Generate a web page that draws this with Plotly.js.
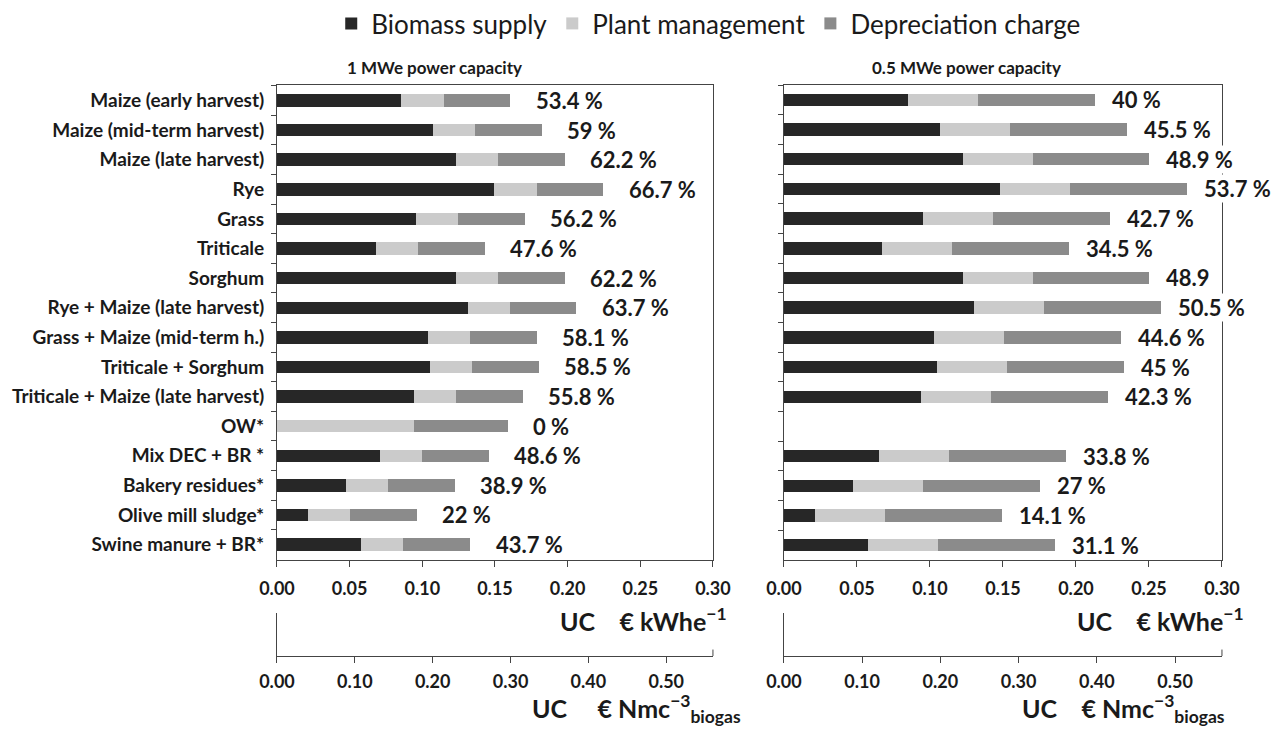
<!DOCTYPE html>
<html>
<head>
<meta charset="utf-8">
<script src="https://cdn.plot.ly/plotly-3.0.1.min.js"></script>
<style>html,body{margin:0;padding:0;background:#fff;}#chart{width:1277px;height:731px;}</style>
</head>
<body>
<div id="chart"></div>
<script>
const categories = [
  "Maize (early harvest)", "Maize (mid-term harvest)", "Maize (late harvest)", "Rye", "Grass",
  "Triticale", "Sorghum", "Rye + Maize (late harvest)", "Grass + Maize (mid-term h.)",
  "Triticale + Sorghum", "Triticale + Maize (late harvest)", "OW*", "Mix DEC + BR *",
  "Bakery residues*", "Olive mill sludge*", "Swine manure + BR*"
];
// 1 MWe power capacity (€ kWhe-1)
const biomass1 = [0.0856, 0.1075, 0.1229, 0.1496, 0.0958, 0.0679, 0.1229, 0.1311, 0.1036, 0.1053, 0.0943, 0, 0.0706, 0.0476, 0.0211, 0.0580];
const plant1   = [0.029, 0.029, 0.029, 0.029, 0.029, 0.029, 0.029, 0.029, 0.029, 0.029, 0.029, 0.094, 0.029, 0.029, 0.029, 0.029];
const deprec1  = [0.046, 0.046, 0.046, 0.046, 0.046, 0.046, 0.046, 0.046, 0.046, 0.046, 0.046, 0.065, 0.046, 0.046, 0.046, 0.046];
const pct1 = ["53.4 %", "59 %", "62.2 %", "66.7 %", "56.2 %", "47.6 %", "62.2 %", "63.7 %", "58.1 %", "58.5 %", "55.8 %", "0 %", "48.6 %", "38.9 %", "22 %", "43.7 %"];
// 0.5 MWe power capacity (€ kWhe-1)
const biomass2 = [0.0852, 0.1067, 0.1223, 0.1482, 0.0952, 0.0673, 0.1223, 0.1304, 0.1029, 0.1046, 0.0937, null, 0.0653, 0.0473, 0.0210, 0.0577];
const plant2   = [0.048, 0.048, 0.048, 0.048, 0.048, 0.048, 0.048, 0.048, 0.048, 0.048, 0.048, null, 0.048, 0.048, 0.048, 0.048];
const deprec2  = [0.080, 0.080, 0.080, 0.080, 0.080, 0.080, 0.080, 0.080, 0.080, 0.080, 0.080, null, 0.080, 0.080, 0.080, 0.080];
const pct2 = ["40 %", "45.5 %", "48.9 %", "53.7 %", "42.7 %", "34.5 %", "48.9", "50.5 %", "44.6 %", "45 %", "42.3 %", "", "33.8 %", "27 %", "14.1 %", "31.1 %"];

const seriesNames = ["Biomass supply", "Plant management", "Depreciation charge"];
const colors = ["#272727", "#cbcbcb", "#8b8b8b"];
const kwhTicks = [0, 0.05, 0.10, 0.15, 0.20, 0.25, 0.30];
const nmcTicks = [0, 0.10, 0.20, 0.30, 0.40, 0.50];

const FONT = "Lato, 'Open Sans', sans-serif";
const TXT = "#1a1a1a";

function bars(vals, xa, ya, show) {
  return vals.map((v, i) => ({
    type: "bar", orientation: "h", x: v, y: categories, name: seriesNames[i],
    xaxis: xa, yaxis: ya, marker: {color: colors[i], line: {width: 0}},
    showlegend: show, hoverinfo: "x+name"
  }));
}

const traces = [
  ...bars([biomass1, plant1, deprec1], "x", "y", true),
  ...bars([biomass2, plant2, deprec2], "x2", "y2", false),
  {type: "scatter", x: [], y: [], xaxis: "x3", yaxis: "y3", showlegend: false},
  {type: "scatter", x: [], y: [], xaxis: "x4", yaxis: "y4", showlegend: false}
];

const bold = (s) => ({family: FONT, size: s, color: TXT, weight: "bold"});
const annotations = [];
categories.forEach((c, i) => {
  const t1 = biomass1[i] + plant1[i] + deprec1[i];
  annotations.push({xref: "x", yref: "y", x: t1 + 0.016, y: c, text: pct1[i], showarrow: false,
    xanchor: "left", yanchor: "middle", font: bold(22)});
  if (biomass2[i] !== null) {
    const t2 = biomass2[i] + plant2[i] + deprec2[i];
    annotations.push({xref: "x2", yref: "y2", x: t2 + 0.011, y: c, text: pct2[i], showarrow: false,
      xanchor: "left", yanchor: "middle", bgcolor: "#ffffff", borderpad: 0, font: bold(22)});
  }
});
annotations.push(
  {xref: "paper", yref: "paper", x: 0.3406, y: 0.907, text: "1 MWe power capacity", showarrow: false, xanchor: "center", yanchor: "middle", font: bold(17)},
  {xref: "paper", yref: "paper", x: 0.757, y: 0.907, text: "0.5 MWe power capacity", showarrow: false, xanchor: "center", yanchor: "middle", font: bold(17)},
  {xref: "paper", yref: "paper", x: 0.571, y: 0.152, text: "UC\u00a0\u00a0\u00a0 € kWhe<sup>−1</sup>", showarrow: false, xanchor: "right", yanchor: "middle", font: bold(25)},
  {xref: "paper", yref: "paper", x: 0.976, y: 0.152, text: "UC\u00a0\u00a0\u00a0 € kWhe<sup>−1</sup>", showarrow: false, xanchor: "right", yanchor: "middle", font: bold(25)},
  {xref: "paper", yref: "paper", x: 0.582, y: 0.031, text: "UC\u00a0\u00a0\u00a0\u00a0 € Nmc<sup>−3</sup><sub>biogas</sub>", showarrow: false, xanchor: "right", yanchor: "middle", font: bold(25)},
  {xref: "paper", yref: "paper", x: 0.961, y: 0.031, text: "UC\u00a0\u00a0\u00a0 € Nmc<sup>−3</sup><sub>biogas</sub>", showarrow: false, xanchor: "right", yanchor: "middle", font: bold(25)}
);

const xMain = (dom, anchor) => ({
  domain: dom, anchor: anchor, range: [0, 0.30], tickvals: kwhTicks, tickformat: ".2f",
  showline: true, linecolor: "#444", linewidth: 1, mirror: true, showgrid: false, zeroline: false,
  ticks: "outside", ticklen: 6, tickcolor: "#444", tickfont: bold(18), ticklabelstandoff: 6, fixedrange: true
});
const yMain = (anchor, labels) => ({
  domain: [0.2339, 0.8837], anchor: anchor, type: "category", autorange: "reversed",
  showline: true, linecolor: "#444", linewidth: 1, mirror: true, showgrid: false, zeroline: false,
  ticks: "outside", ticklen: 5, tickcolor: "#444", tickson: "boundaries",
  showticklabels: labels, tickfont: bold(19), ticklabelstandoff: 8, fixedrange: true
});
const xSec = (dom, anchor) => ({
  domain: dom, anchor: anchor, range: [0, 0.56], tickvals: nmcTicks, tickformat: ".2f",
  showline: true, linecolor: "#444", linewidth: 1, showgrid: false, zeroline: false,
  ticks: "outside", ticklen: 6, tickcolor: "#444", tickfont: bold(18), ticklabelstandoff: 3, fixedrange: true
});
const ySec = (anchor) => ({
  domain: [0.1026, 0.1614], anchor: anchor, range: [0, 1], showline: true, linecolor: "#444",
  linewidth: 1, showgrid: false, zeroline: false, showticklabels: false, ticks: "", fixedrange: true
});

const leftDom = [0.2169, 0.5583];
const rightDom = [0.6139, 0.9569];

const layout = {
  width: 1277, height: 731, margin: {l: 0, r: 0, t: 0, b: 0},
  paper_bgcolor: "#ffffff", plot_bgcolor: "#ffffff",
  font: {family: FONT, color: TXT},
  barmode: "stack", bargap: 0.58,
  showlegend: true,
  legend: {orientation: "h", x: 0.555, xanchor: "center", y: 1.0, yanchor: "top",
    font: {family: FONT, size: 26, color: TXT}, traceorder: "normal", itemwidth: 30},
  xaxis: xMain(leftDom, "y"),
  yaxis: yMain("x", true),
  xaxis2: xMain(rightDom, "y2"),
  yaxis2: yMain("x2", false),
  xaxis3: xSec(leftDom, "y3"),
  yaxis3: ySec("x3"),
  xaxis4: xSec(rightDom, "y4"),
  yaxis4: ySec("x4"),
  annotations: annotations,
  shapes: [
    {type: "line", xref: "x3 domain", yref: "y3", x0: 1, x1: 1, y0: 0, y1: 0.15, line: {color: "#444", width: 1}},
    {type: "line", xref: "x4 domain", yref: "y4", x0: 1, x1: 1, y0: 0, y1: 0.15, line: {color: "#444", width: 1}}
  ]
};

Plotly.newPlot("chart", traces, layout, {displayModeBar: false, staticPlot: true});
</script>
</body>
</html>
